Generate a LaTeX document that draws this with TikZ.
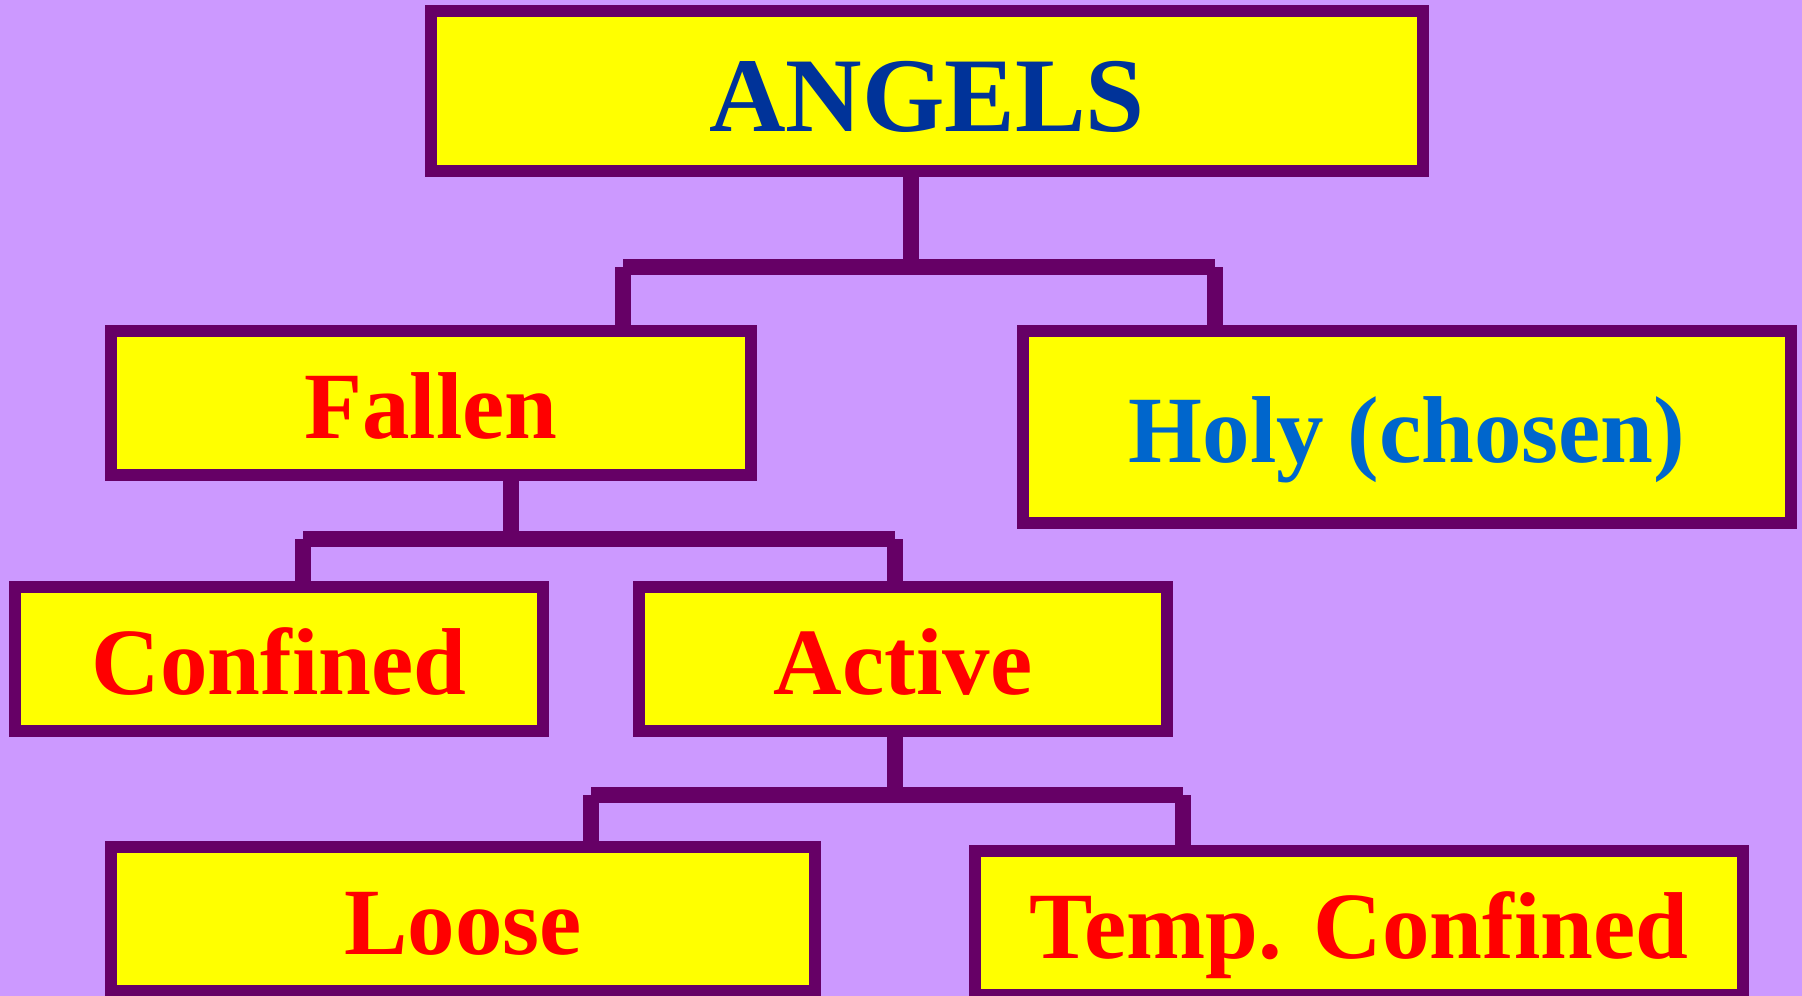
\documentclass[tikz,border=0pt]{standalone}
\usepackage{fontspec}
\setmainfont{Liberation Serif}
\definecolor{bg}{HTML}{CC99FF}
\definecolor{boxy}{HTML}{FFFF00}
\definecolor{edge}{HTML}{660066}
\definecolor{redtxt}{HTML}{FF0000}
\definecolor{angblue}{HTML}{003399}
\definecolor{holyblue}{HTML}{0066CC}
\tikzset{
  box/.style={draw=edge, fill=boxy, line width=12pt, inner sep=0pt, outer sep=0pt,
    font=\bfseries\fontsize{95}{95}\selectfont, text=redtxt,
    text height=70pt, text depth=0pt},
  link/.style={draw=edge, line width=16pt},
}
\begin{document}
\begin{tikzpicture}[x=1pt,y=-1pt]
\fill[bg] (0,0) rectangle (1802,996);
\useasboundingbox (0,0) rectangle (1802,996);

\node[box, minimum width=992pt, minimum height=160pt, text=angblue,
      font=\bfseries\fontsize{106}{106}\selectfont, text height=80pt] (angels) at (927,91) {ANGELS};
\node[box, minimum width=640pt, minimum height=144pt] (fallen) at (431,403) {Fallen};
\node[box, minimum width=768pt, minimum height=192pt, text=holyblue] (holy) at (1407,427) {Holy (chosen)};
\node[box, minimum width=528pt, minimum height=144pt] (confined) at (279,659) {Confined};
\node[box, minimum width=528pt, minimum height=144pt] (active) at (903,659) {Active};
\node[box, minimum width=704pt, minimum height=144pt] (loose) at (463,919) {Loose};
\node[box, minimum width=768pt, minimum height=144pt] (temp) at (1359,923) {Temp. Confined};

% level 1
\coordinate (j1) at (911,267);
\coordinate (j1l) at (623,267);
\coordinate (j1r) at (1215,267);
\draw[link] (angels.south -| j1) -- (j1);
\draw[link] (j1l) -- (j1r);
\draw[link] (j1l) -- (fallen.north -| j1l);
\draw[link] (j1r) -- (holy.north -| j1r);

% level 2
\coordinate (j2) at (511,539);
\coordinate (j2l) at (303,539);
\coordinate (j2r) at (895,539);
\draw[link] (fallen.south -| j2) -- (j2);
\draw[link] (j2l) -- (j2r);
\draw[link] (j2l) -- (confined.north -| j2l);
\draw[link] (j2r) -- (active.north -| j2r);

% level 3
\coordinate (j3) at (895,795);
\coordinate (j3l) at (591,795);
\coordinate (j3r) at (1183,795);
\draw[link] (active.south -| j3) -- (j3);
\draw[link] (j3l) -- (j3r);
\draw[link] (j3l) -- (loose.north -| j3l);
\draw[link] (j3r) -- (temp.north -| j3r);
\end{tikzpicture}
\end{document}
